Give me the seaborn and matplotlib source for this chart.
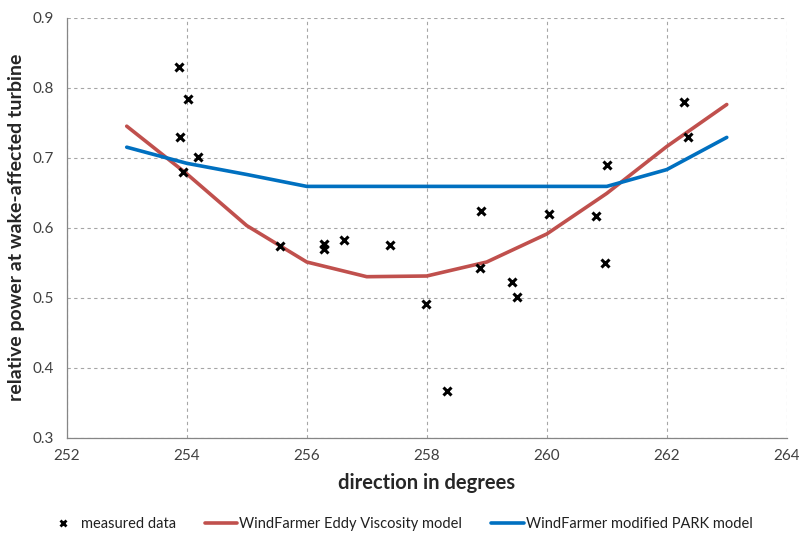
import matplotlib
matplotlib.use("Agg")
import matplotlib.pyplot as plt
import seaborn as sns
import pandas as pd
from matplotlib.lines import Line2D

# measured relative power vs wind direction
meas_dir = [253.87, 254.02, 253.89, 254.19, 253.93, 255.56, 256.29, 256.29, 256.62,
            257.39, 257.99, 258.34, 258.91, 258.89, 259.42, 259.50, 260.03, 260.82,
            261.00, 260.97, 262.28, 262.36]
meas_power = [0.830, 0.784, 0.730, 0.701, 0.680, 0.574, 0.576, 0.569, 0.583,
              0.575, 0.491, 0.367, 0.624, 0.542, 0.522, 0.501, 0.619, 0.617,
              0.690, 0.549, 0.780, 0.730]

# model predictions
model_dir = [253, 254, 255, 256, 257, 258, 259, 260, 261, 262, 263]
eddy_power = [0.745, 0.677, 0.603, 0.551, 0.530, 0.531, 0.551, 0.591, 0.649, 0.716, 0.776]
park_power = [0.715, 0.692, 0.676, 0.659, 0.659, 0.659, 0.659, 0.659, 0.659, 0.683, 0.729]

x_ticks = [252, 254, 256, 258, 260, 262, 264]
y_ticks = [0.3, 0.4, 0.5, 0.6, 0.7, 0.8, 0.9]

sns.set_style("white")
plt.rcParams["font.family"] = ["Lato", "DejaVu Sans"]

meas_df = pd.DataFrame({"direction": meas_dir, "power": meas_power})
model_df = pd.DataFrame({"direction": model_dir, "eddy": eddy_power, "park": park_power})

red = "#c0504d"
blue = "#0070c0"

fig = plt.figure(figsize=(7.99, 5.34), dpi=100)
ax = fig.add_axes([0.0835, 0.1803, 0.9012, 0.7866])

sns.lineplot(data=model_df, x="direction", y="eddy", ax=ax, color=red, linewidth=2.6, zorder=3)
sns.lineplot(data=model_df, x="direction", y="park", ax=ax, color=blue, linewidth=2.6, zorder=3)
ax.plot(meas_df["direction"], meas_df["power"], linestyle="none", marker="x",
        markersize=5.5, markeredgewidth=2.2, color="black", zorder=4)

ax.set_xlim(252, 264)
ax.set_ylim(0.3, 0.9)
ax.set_xticks(x_ticks)
ax.set_yticks(y_ticks)
ax.set_xticklabels([str(t) for t in x_ticks])
ax.set_yticklabels([f"{t:.1f}" for t in y_ticks])
ax.tick_params(axis="both", labelsize=11, colors="#404040", length=5, width=0.8,
               direction="out", color="#868686", pad=4)
ax.tick_params(axis="x", pad=3)

ax.grid(True, linestyle=(0, (3, 3)), color="#a6a6a6", linewidth=0.8)
ax.set_axisbelow(True)
for side in ["top", "right"]:
    ax.spines[side].set_visible(False)
for side in ["left", "bottom"]:
    ax.spines[side].set_color("#868686")
    ax.spines[side].set_linewidth(0.9)

ax.set_xlabel("direction in degrees", fontsize=14.5, fontweight="bold", labelpad=7)
ax.set_ylabel("relative power at wake-affected turbine", fontsize=14, fontweight="bold",
              labelpad=6)

handles = [
    Line2D([], [], linestyle="none", marker="x", markersize=5, markeredgewidth=2, color="black"),
    Line2D([], [], color=red, linewidth=2.6),
    Line2D([], [], color=blue, linewidth=2.6),
]
labels = ["measured data", "WindFarmer Eddy Viscosity model", "WindFarmer modified PARK model"]
fig.legend(handles, labels, loc="center", bbox_to_anchor=(0.5, 0.018), ncol=3, frameon=False,
           fontsize=10.5, handlelength=2.2, columnspacing=2.0, handletextpad=0.15,
           labelcolor="#202020")

fig.savefig("out.png", dpi=100)
